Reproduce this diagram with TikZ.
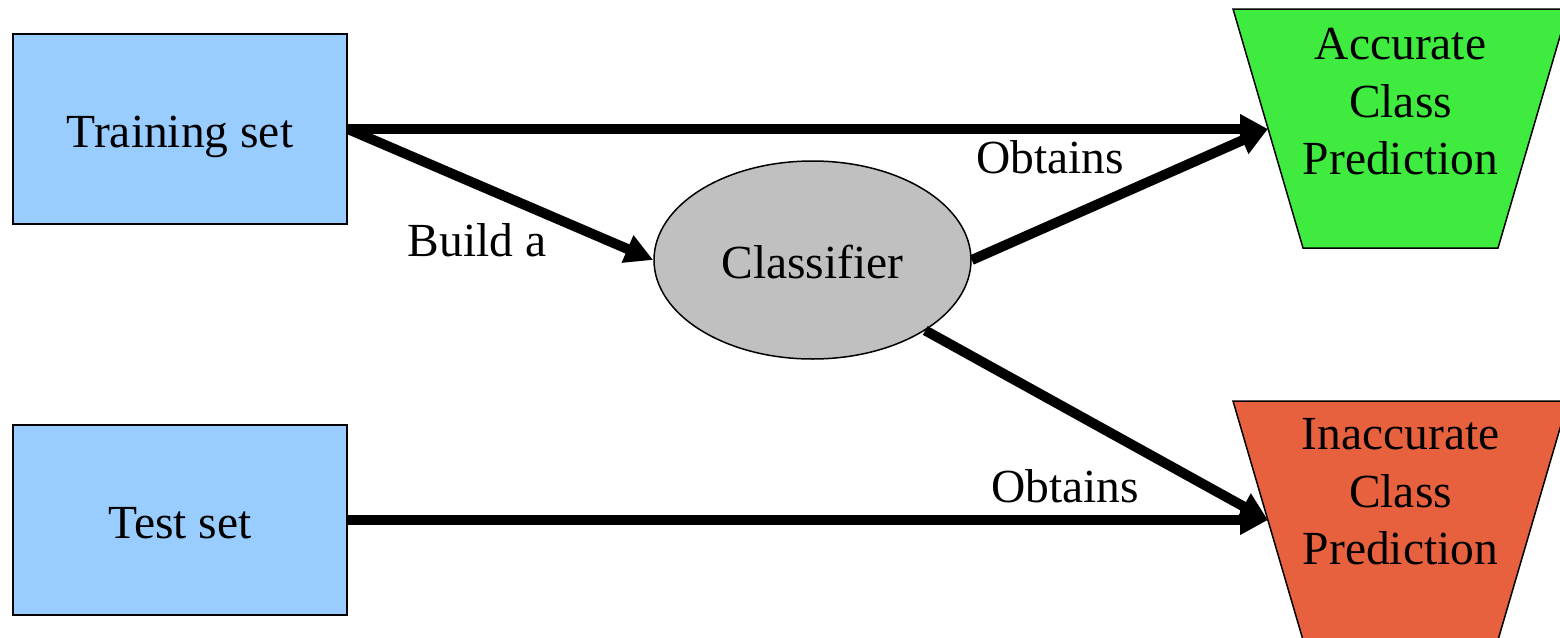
\documentclass[tikz,border=0pt]{standalone}
\usepackage{fontspec}
\setmainfont{Liberation Serif}
\usetikzlibrary{arrows.meta,shapes.geometric}

\definecolor{setblue}{HTML}{99CCFF}
\definecolor{clfgrey}{HTML}{C0C0C0}
\definecolor{goodgreen}{HTML}{3EEB3E}
\definecolor{badred}{HTML}{E8613F}

\tikzset{
  txt/.style={font=\fontsize{47.5}{57.5}\selectfont, inner sep=0pt},
  setbox/.style={txt, draw=black, line width=1.5pt, fill=setblue,
    minimum width=334pt, minimum height=190pt,
    text height=36pt, text depth=0pt},
  clfnode/.style={txt, ellipse, draw=black, line width=1.5pt, fill=clfgrey,
    minimum width=317pt, minimum height=198pt,
    text height=36pt, text depth=0pt},
  outcome/.style={draw=black, line width=1.5pt},
  conn/.style={line width=10pt, -{Triangle[length=28pt,width=28pt]}},
}

\begin{document}
\begin{tikzpicture}[x=1pt, y=-1pt]
  \clip (0,0) rectangle (1560,637);

  % input data sets and the classifier
  \node[setbox] (train) at (180,129) {Training set};
  \node[setbox] (test)  at (180,520) {Test set};
  \node[clfnode] (clf) at (812.5,260) {Classifier};

  % outcome trapezoids (wide side on top)
  \filldraw[outcome, fill=goodgreen]
    (1233,9) -- (1568,9) -- (1498,248) -- (1303,248) -- cycle;
  \filldraw[outcome, fill=badred]
    (1233,401) -- (1568,401) -- (1498,640) -- (1303,640) -- cycle;
  \coordinate (accin)   at (1268,129);
  \coordinate (inaccin) at (1268,520);

  \node[txt, align=center] (acc) at (1400.5,101.7)
    {Accurate\\Class\\Prediction};
  \node[txt, align=center] (inacc) at (1400.5,491.7)
    {Inaccurate\\Class\\Prediction};

  % connectors
  \draw[conn] (train.east) -- (accin);
  \draw[conn] (train.east) -- (clf.west);
  \draw[conn] (clf.east) -- (accin);
  \draw[conn] (clf.-32) -- (inaccin);
  \draw[conn] (test.east) -- (inaccin);

  % connector labels
  \node[txt, anchor=base] (lblbuild) at (477,256) {Build a};
  \node[txt, anchor=base] (lblobt1) at (1050,173) {Obtains};
  \node[txt, anchor=base] (lblobt2) at (1065,502) {Obtains};
\end{tikzpicture}
\end{document}
